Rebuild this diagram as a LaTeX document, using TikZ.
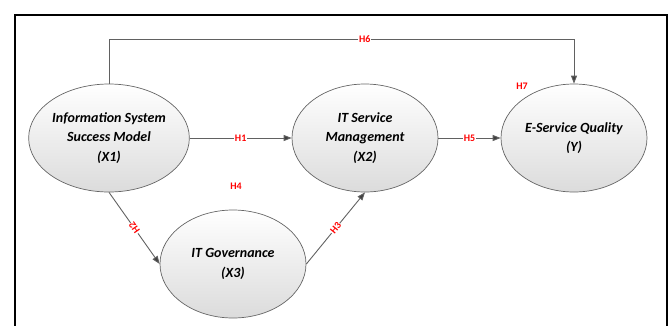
\documentclass[tikz,border=0pt]{standalone}
\usepackage{fontspec}
\setmainfont{Carlito}
\usetikzlibrary{arrows.meta,shapes.geometric}
\begin{document}
\begin{tikzpicture}[x=1pt,y=-1pt,
 construct/.style={ellipse, draw=black!60, line width=0.7pt, minimum width=146pt, minimum height=108pt, top color=white, bottom color=black!14, inner sep=0pt, align=center, font=\fontsize{14}{19.5}\selectfont\bfseries\itshape},
 link/.style={draw=black!62, line width=0.9pt, -{Triangle[length=8pt,width=6pt,fill=black!75]}},
 hyp/.style={text=red, font=\fontsize{10}{12}\selectfont\bfseries, fill=white, inner sep=0.6pt},
 hypfree/.style={text=red, font=\fontsize{10}{12}\selectfont\bfseries, inner sep=0.6pt}]
\useasboundingbox (0,0) rectangle (672,325);
% frame
\draw[line width=1.6pt] (15,330) -- (15,15) -- (667,15) -- (667,330);
% constructs
\node[construct] (Xone) at (109,138) {Information System\\Success Model\\(X1)};
\node[construct] (Xtwo) at (365,138) {IT Service\\Management\\(X2)};
\node[construct] (Yq) at (574,138) {E-Service Quality\\(Y)};
\node[construct] (Xthree) at (233,264) {IT Governance\\(X3)};
% connectors
\draw[link] (Xone) -- node[hyp]{H1} (Xtwo);
\draw[link] (Xtwo) -- node[hyp]{H5} (Yq);
\draw[link] (Xone.south) -- node[hyp, rotate=125]{H2} (Xthree.west);
\draw[link] (Xthree.east) -- node[hyp, sloped]{H3} (Xtwo.south);
\coordinate (ta) at (109,39);
\coordinate (tb) at (574,39);
\draw[link] (Xone.north) -- (ta) -- node[hyp, pos=0.55]{H6} (tb) -- (Yq.north);
% free labels
\node[hypfree] (hfour) at (236,186) {H4};
\node[hypfree] (hseven) at (522,86) {H7};
\end{tikzpicture}
\end{document}
